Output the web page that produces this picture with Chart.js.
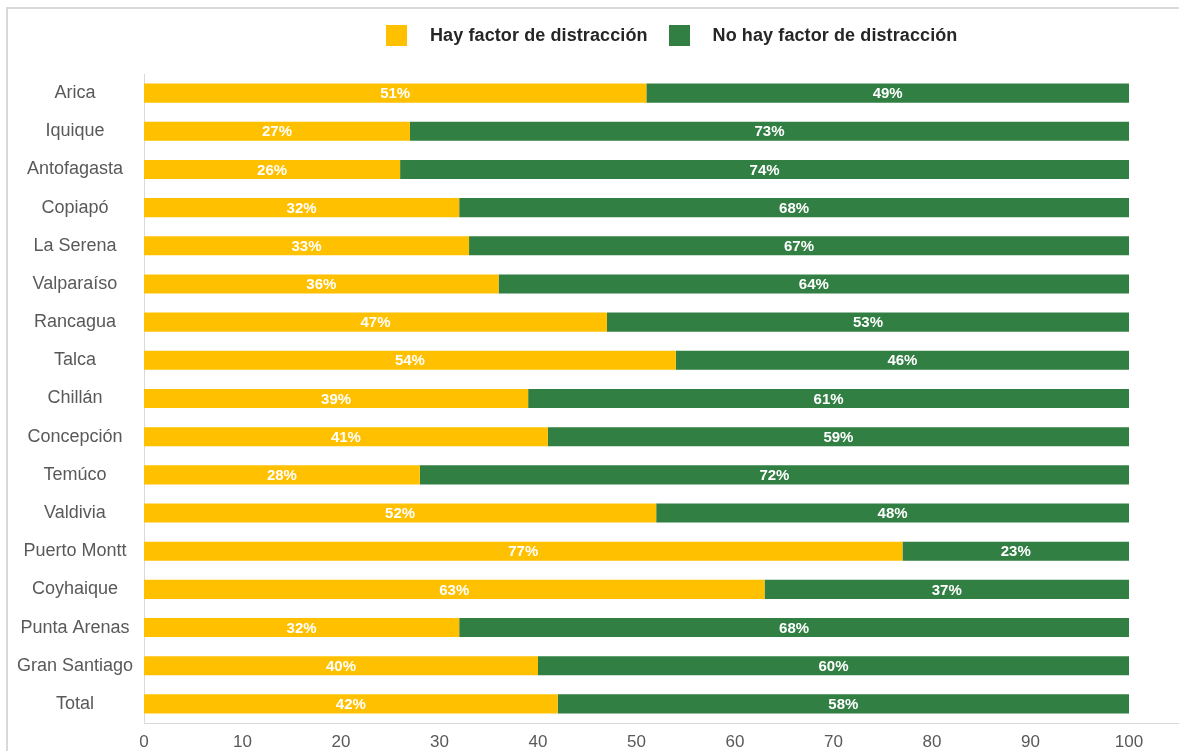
<!DOCTYPE html>
<html lang="es">
<head>
<meta charset="utf-8">
<title>Factor de distracción por ciudad</title>
<script src="https://cdn.jsdelivr.net/npm/chart.js@4.4.1/dist/chart.umd.min.js"></script>
<style>
  html, body { margin: 0; padding: 0; background: #fff; overflow: hidden; }
  #marco {
    position: absolute; left: 6px; top: 7px; width: 1300px; height: 900px;
    border-left: 2px solid #d9d9d9; border-top: 2px solid #d9d9d9;
  }
  #contenedor { position: absolute; left: 0; top: 0; width: 1179px; height: 751px; }
  #leyenda {
    position: absolute; left: 386px; top: 25px; display: flex; align-items: center;
    font: bold 18px "Liberation Sans", Arial, sans-serif; color: #262626;
    letter-spacing: 0.1px;
  }
  .item { display: flex; align-items: center; margin-right: 21px; }
  .caja { width: 21px; height: 21px; margin-right: 23px; }
</style>
</head>
<body>
<div id="marco"></div>
<div id="contenedor"><canvas id="grafico"></canvas></div>
<div id="leyenda"></div>
<script>
// Ciudades (eje vertical)
const ciudades = ['Arica', 'Iquique', 'Antofagasta', 'Copiapó', 'La Serena', 'Valparaíso', 'Rancagua',
  'Talca', 'Chillán', 'Concepción', 'Temúco', 'Valdivia', 'Puerto Montt', 'Coyhaique',
  'Punta Arenas', 'Gran Santiago', 'Total'];

// Porcentajes por ciudad
const hayFactor = [51, 27, 26, 32, 33, 36, 47, 54, 39, 41, 28, 52, 77, 63, 32, 40, 42];
const noHayFactor = [49, 73, 74, 68, 67, 64, 53, 46, 61, 59, 72, 48, 23, 37, 68, 60, 58];

const series = [
  { label: 'Hay factor de distracción', data: hayFactor, color: '#FFC000' },
  { label: 'No hay factor de distracción', data: noHayFactor, color: '#317F43' }
];

// Etiquetas de porcentaje dentro de cada segmento
const etiquetasBarras = {
  id: 'etiquetasBarras',
  afterDatasetsDraw(chart) {
    const ctx = chart.ctx;
    ctx.save();
    ctx.font = 'bold 15px "Liberation Sans", Arial, sans-serif';
    ctx.fillStyle = '#ffffff';
    ctx.textAlign = 'center';
    ctx.textBaseline = 'middle';
    chart.data.datasets.forEach((ds, i) => {
      chart.getDatasetMeta(i).data.forEach((bar, j) => {
        const p = bar.getProps(['x', 'y', 'base'], true);
        ctx.fillText(ds.data[j] + '%', (p.x + p.base) / 2, p.y + 1);
      });
    });
    ctx.restore();
  }
};

// La línea del eje X continúa hasta el borde derecho
const lineaEje = {
  id: 'lineaEje',
  afterDraw(chart) {
    const ctx = chart.ctx;
    const y = chart.chartArea.bottom;
    ctx.save();
    ctx.strokeStyle = '#d9d9d9';
    ctx.lineWidth = 1;
    ctx.beginPath();
    ctx.moveTo(chart.chartArea.right, y + 0.5);
    ctx.lineTo(chart.width, y + 0.5);
    ctx.stroke();
    ctx.restore();
  }
};

const ctx = document.getElementById('grafico').getContext('2d');
const grafico = new Chart(ctx, {
  type: 'bar',
  data: {
    labels: ciudades,
    datasets: series.map(s => ({
      label: s.label,
      data: s.data,
      backgroundColor: s.color,
      borderWidth: 0,
      categoryPercentage: 1,
      barPercentage: 0.5
    }))
  },
  options: {
    indexAxis: 'y',
    responsive: true,
    maintainAspectRatio: false,
    animation: false,
    layout: { padding: { left: 8, right: 50, top: 74, bottom: 0 } },
    scales: {
      x: {
        stacked: true,
        min: 0,
        max: 100,
        grid: { display: false },
        border: { color: '#d9d9d9' },
        ticks: {
          stepSize: 10,
          color: '#595959',
          padding: 1,
          font: { family: '"Liberation Sans", Arial, sans-serif', size: 17 }
        },
        afterFit(scale) { scale.height = 28; }
      },
      y: {
        stacked: true,
        grid: { display: false },
        border: { color: '#d9d9d9' },
        ticks: {
          crossAlign: 'center',
          color: '#595959',
          font: { family: '"Liberation Sans", Arial, sans-serif', size: 18 }
        },
        afterFit(scale) { scale.width = 136; }
      }
    },
    plugins: {
      legend: { display: false },
      tooltip: { enabled: false }
    }
  },
  plugins: [etiquetasBarras, lineaEje]
});

// Leyenda superior
const leyenda = document.getElementById('leyenda');
series.forEach(s => {
  const item = document.createElement('div');
  item.className = 'item';
  const caja = document.createElement('span');
  caja.className = 'caja';
  caja.style.background = s.color;
  const texto = document.createElement('span');
  texto.textContent = s.label;
  item.appendChild(caja);
  item.appendChild(texto);
  leyenda.appendChild(item);
});
</script>
</body>
</html>
